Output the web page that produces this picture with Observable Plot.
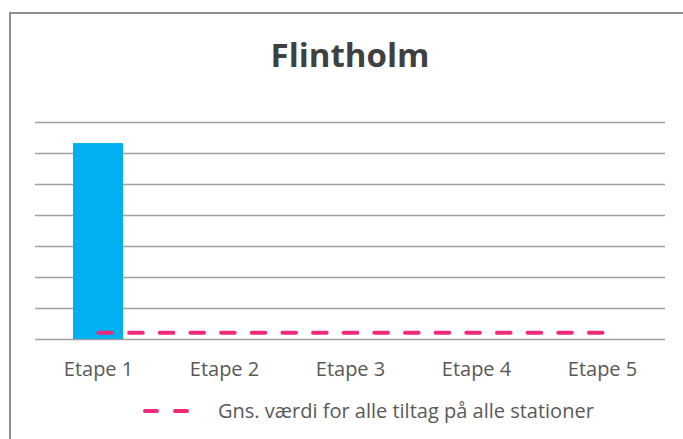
<!DOCTYPE html>
<html>
<head>
<meta charset="utf-8">
<script src="https://cdn.jsdelivr.net/npm/d3@7"></script>
<script src="https://cdn.jsdelivr.net/npm/@observablehq/plot@0.6"></script>
<style>
  html, body { margin: 0; padding: 0; background: #fff; }
  #wrap { position: relative; width: 683px; height: 439px; overflow: hidden; font-family: "Open Sans", sans-serif; }
  #frame { position: absolute; left: 9px; top: 12px; width: 700px; height: 460px; border-left: 2px solid #8f8f8f; border-top: 2px solid #8f8f8f; box-sizing: border-box; }
  #title { position: absolute; left: 0; width: 700px; top: 38px; text-align: center; font-weight: bold; font-size: 33px; color: #404040; line-height: 1; }
  #chart { position: absolute; left: 0; top: 0; }
  #legend { position: absolute; left: 140px; top: 397px; display: flex; align-items: center; font-size: 20px; color: #595959; white-space: nowrap; }
  #legend svg { margin-right: 26px; }
</style>
</head>
<body>
<div id="wrap">
  <div id="frame"></div>
  <div id="chart"></div>
  <div id="title"></div>
  <div id="legend"></div>
</div>
<script>
const chartTitle = "Flintholm";
const categories = ["Etape 1", "Etape 2", "Etape 3", "Etape 4", "Etape 5"];
const stationValues = [31.6, null, null, null, null];
const averageValues = [1.1, 1.1, 1.1, 1.1, 1.1];
const averageLabel = "Gns. værdi for alle tiltag på alle stationer";
const yTicks = [0, 5, 10, 15, 20, 25, 30, 35];

const barColor = "#00B0F0";
const avgColor = "#EE2A7B";

const bars = categories.map((c, i) => ({category: c, value: stationValues[i]})).filter(d => d.value != null);
const avg = categories.map((c, i) => ({category: c, value: averageValues[i]}));

const plot = Plot.plot({
  width: 683,
  height: 439,
  marginTop: 122,
  marginBottom: 100,
  marginLeft: 35,
  marginRight: 18,
  style: {fontFamily: "Open Sans, sans-serif", fontSize: "20px", color: "#595959", background: "transparent", overflow: "visible"},
  x: {domain: categories, paddingInner: 0.6, paddingOuter: 0.3, label: null},
  y: {domain: [0, 35], ticks: yTicks, label: null, axis: null},
  marks: [
    Plot.gridY(yTicks, {stroke: "#a0a0a0", strokeOpacity: 1, strokeWidth: 1.3}),
    Plot.barY(bars, {x: "category", y: "value", fill: barColor}),
    Plot.lineY(avg, {x: "category", y: "value", stroke: avgColor, strokeWidth: 4, strokeDasharray: "13.6,17.05", strokeLinecap: "round"}),
    Plot.axisX({tickSize: 0, tickPadding: 22.5, fill: "#595959", fontSize: 20})
  ]
});
document.getElementById("chart").appendChild(plot);
document.getElementById("title").textContent = chartTitle;

const legend = document.getElementById("legend");
const ns = "http://www.w3.org/2000/svg";
const sw = document.createElementNS(ns, "svg");
sw.setAttribute("width", "52");
sw.setAttribute("height", "10");
const ln = document.createElementNS(ns, "line");
ln.setAttribute("x1", "5"); ln.setAttribute("x2", "50");
ln.setAttribute("y1", "5"); ln.setAttribute("y2", "5");
ln.setAttribute("stroke", avgColor);
ln.setAttribute("stroke-width", "4");
ln.setAttribute("stroke-linecap", "round");
ln.setAttribute("stroke-dasharray", "12,18");
sw.appendChild(ln);
legend.appendChild(sw);
const lt = document.createElement("span");
lt.textContent = averageLabel;
legend.appendChild(lt);
</script>
</body>
</html>
